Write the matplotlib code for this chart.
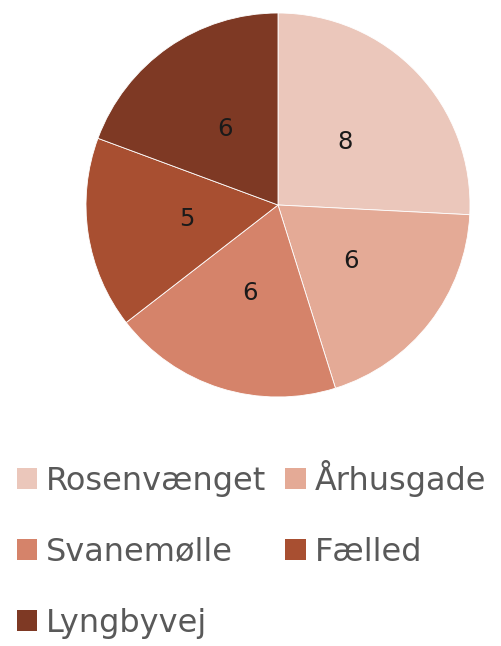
import matplotlib
matplotlib.use("Agg")
import matplotlib.pyplot as plt

categories = ["Rosenvænget", "Århusgade", "Svanemølle", "Fælled", "Lyngbyvej"]
values = [8, 6, 6, 5, 6]
colors = ["#EBC7BB", "#E4AA96", "#D5836A", "#A84F31", "#7E3924"]

W, H = 501, 646
fig = plt.figure(figsize=(W/100, H/100), dpi=100)
cx, cy, r = 278, 205, 192
ax = fig.add_axes([(cx - r)/W, 1 - (cy + r)/H, 2*r/W, 2*r/H])
wedges, texts = ax.pie(values, colors=colors, startangle=90, counterclock=False,
                       labels=[str(v) for v in values], labeldistance=0.48,
                       wedgeprops=dict(linewidth=0.6, edgecolor="white"),
                       textprops=dict(fontsize=17.5, color="#1a1a1a", family="DejaVu Sans"))
for t in texts:
    t.set_ha("center"); t.set_va("center")
ax.set_xlim(-1, 1); ax.set_ylim(-1, 1)

# row-major order for a 2-column legend
order = [0, 2, 4, 1, 3]
leg = fig.legend([wedges[i] for i in order], [categories[i] for i in order],
                 ncol=2, loc="upper left",
                 bbox_to_anchor=(17/W, 1 - 460/H), frameon=False,
                 prop=dict(family="DejaVu Sans", size=23),
                 handlelength=0.63, handleheight=0.63, handletextpad=0.28,
                 columnspacing=0.6, labelspacing=1.25, borderaxespad=0.0,
                 borderpad=0.0)
for t in leg.get_texts():
    t.set_color("#595959")
for h in leg.legend_handles:
    h.set_edgecolor("none")
fig.savefig("out.png", dpi=100)
